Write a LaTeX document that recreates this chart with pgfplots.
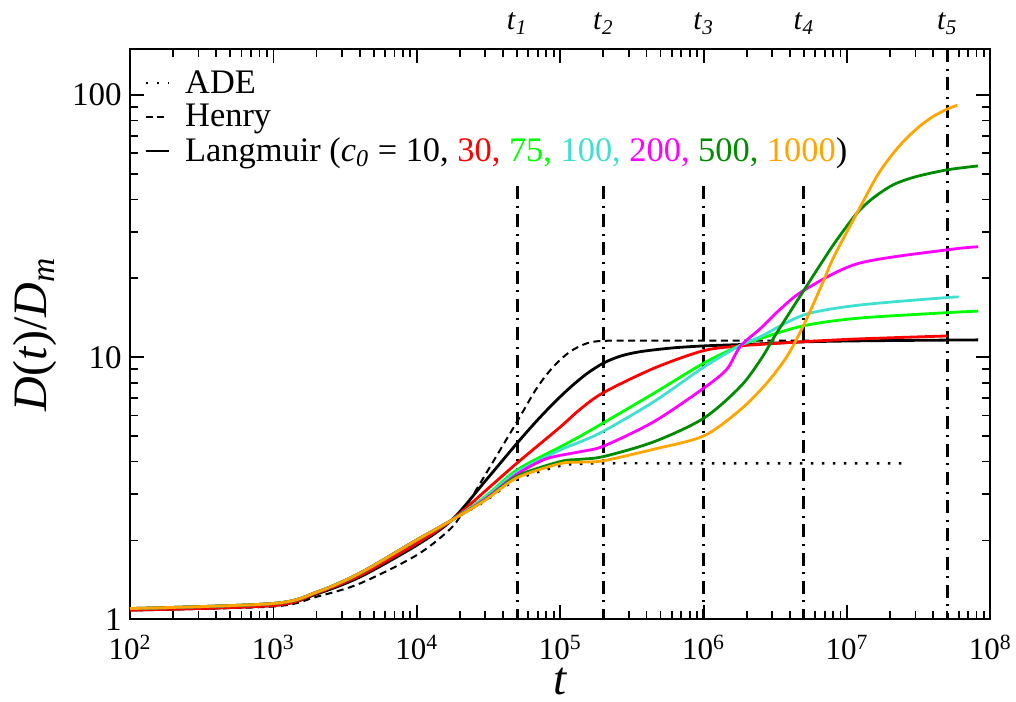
\documentclass[border=0pt]{standalone}
\usepackage{fontspec}
\setmainfont{LiberationSerif}[Extension=.ttf, UprightFont=*-Regular, ItalicFont=*-Italic, BoldFont=*-Bold, BoldItalicFont=*-BoldItalic]
\usepackage{pgfplots}
\pgfplotsset{compat=1.18}
\definecolor{cturq}{RGB}{64,224,208}
\definecolor{cdkgreen}{RGB}{0,139,0}
\definecolor{corange}{RGB}{255,165,0}
\definecolor{cgreen}{RGB}{0,255,0}
\definecolor{cred}{RGB}{255,0,0}
\definecolor{cmag}{RGB}{255,0,255}
\begin{document}
\begin{tikzpicture}
\begin{axis}[
 name=ax,
 scale only axis,
 width=430.2pt, height=285.2pt,
 xmode=log, ymode=log,
 xmin=100, xmax=1e8, ymin=1, ymax=150,
 clip=false,
 xtick={1e2,1e3,1e4,1e5,1e6,1e7,1e8},
 xticklabels={10\textsuperscript{2},10\textsuperscript{3},10\textsuperscript{4},10\textsuperscript{5},10\textsuperscript{6},10\textsuperscript{7},10\textsuperscript{8}},
 ytick={1,10,100}, yticklabels={1,10,100},
 axis line style={line width=1pt},
 every tick/.style={black, line width=0.9pt},
 major tick length=7pt, minor tick length=4pt,
 tick align=inside,
 xticklabel style={font=\fontsize{15.5}{18}\selectfont, inner sep=0pt, anchor=north, yshift=-7.5pt},
 yticklabel style={font=\fontsize{16.5}{19}\selectfont, inner sep=0pt, anchor=east, xshift=-4pt},
 xlabel={\textit{t}},
 ylabel={\textit{D}(\textit{t})/\textit{D}\textsubscript{\textit{m}}},
 xlabel style={at={(axis description cs:0.5,-0.131)}, anchor=base, font=\fontsize{23.5}{26}\selectfont, inner sep=0pt},
 ylabel style={at={(axis description cs:-0.0968,0.5)}, anchor=base, font=\fontsize{24}{26}\selectfont, inner sep=0pt},
 legend style={draw=none, fill=none, at={(axis description cs:0,1)}, anchor=north west, xshift=7pt, yshift=-9pt,
   font=\fontsize{17.2}{20}\selectfont, inner sep=0pt, row sep=1pt, nodes={inner sep=1.5pt},
   /tikz/every odd column/.append style={column sep=6pt}},
 legend cell align=left,
 legend image code/.code={\draw[#1] (0pt,0pt) -- (11.5pt,0pt);},
]
% vertical dash-dot lines
\addplot[forget plot, black, line width=1.5pt, dash pattern=on 6.5pt off 3.3pt on 1pt off 3.3pt] coordinates {(5e4,45) (5e4,1)};
\addplot[forget plot, black, line width=1.5pt, dash pattern=on 6.5pt off 3.3pt on 1pt off 3.3pt] coordinates {(2e5,45) (2e5,1)};
\addplot[forget plot, black, line width=1.5pt, dash pattern=on 6.5pt off 3.3pt on 1pt off 3.3pt] coordinates {(1e6,45) (1e6,1)};
\addplot[forget plot, black, line width=1.5pt, dash pattern=on 6.5pt off 3.3pt on 1pt off 3.3pt] coordinates {(5e6,45) (5e6,1)};
\addplot[forget plot, black, line width=1.5pt, dash pattern=on 6.5pt off 3.3pt on 1pt off 3.3pt] coordinates {(5e7,150) (5e7,1)};
% ADE
\addplot[forget plot, black, line width=1.2pt, dash pattern=on 1.2pt off 4.3pt, smooth] coordinates {
(100,1.10)(1000,1.15)(2000,1.27)(4000,1.50)(1e4,2.01)(1.75e4,2.39)(3e4,2.83)(5e4,3.42)(1e5,3.85)(1.4e5,3.92)(2e5,3.94)(1e6,3.94)(2.4e7,3.94)};
% Henry
\addplot[forget plot, black, line width=1pt, dash pattern=on 3.5pt off 2.3pt, smooth] coordinates {
(100,1.085)(1000,1.12)(2000,1.22)(4000,1.37)(1e4,1.76)(1.75e4,2.24)(2.23e4,2.73)(2.76e4,3.3)(5e4,5.68)(6.86e4,7.62)(8.95e4,9.2)(1.17e5,10.5)(1.53e5,11.3)(2e5,11.55)(4e5,11.57)(1e6,11.57)(6e6,11.57)};
% Langmuir c0=10
\addplot[forget plot, black, line width=1.4pt, smooth] coordinates {
(100,1.085)(1000,1.13)(2000,1.25)(4000,1.45)(1e4,1.92)(1.75e4,2.39)(3e4,3.37)(5e4,4.70)(6.9e4,5.74)(9e4,6.68)(1.17e5,7.66)(1.53e5,8.65)(2e5,9.50)(2.63e5,10.1)(3.6e5,10.5)(6e5,10.85)(1e6,11.05)(1.8e6,11.18)(2.5e6,11.25)(5e6,11.45)(1.2e7,11.55)(5e7,11.63)(8.2e7,11.65)};
% c0=30
\addplot[forget plot, cred, line width=1.4pt, smooth] coordinates {
(100,1.085)(1000,1.13)(2000,1.26)(4000,1.47)(1e4,1.95)(1.75e4,2.39)(3e4,3.09)(5e4,3.95)(1e5,5.42)(1.37e5,6.32)(2e5,7.33)(4.5e5,9.08)(1e6,10.6)(1.8e6,11.05)(2.5e6,11.2)(5e6,11.47)(1.2e7,11.75)(5e7,12.06)};
% c0=75
\addplot[forget plot, cgreen, line width=1.4pt, smooth] coordinates {
(100,1.10)(1000,1.15)(2000,1.27)(4000,1.50)(1e4,2.01)(1.75e4,2.39)(3e4,2.94)(5e4,3.72)(1e5,4.55)(1.37e5,4.99)(2e5,5.62)(4.5e5,7.29)(1e6,9.49)(1.8e6,11.1)(2.5e6,11.8)(5e6,13.2)(1.2e7,14.1)(5e7,14.8)(8.2e7,15.0)};
% c0=100
\addplot[forget plot, cturq, line width=1.4pt, smooth] coordinates {
(100,1.10)(1000,1.15)(2000,1.27)(4000,1.50)(1e4,2.01)(1.75e4,2.39)(3e4,2.92)(5e4,3.65)(1e5,4.43)(1.37e5,4.75)(2e5,5.22)(4.5e5,6.77)(1e6,9.16)(1.8e6,11.1)(2.5e6,12.0)(5e6,14.5)(1.2e7,15.8)(5e7,16.9)(6e7,16.95)};
% c0=200
\addplot[forget plot, cmag, line width=1.4pt, smooth] coordinates {
(100,1.10)(1000,1.15)(2000,1.27)(4000,1.50)(1e4,2.01)(1.75e4,2.39)(3e4,2.88)(5e4,3.58)(8e4,4.10)(1.37e5,4.36)(2e5,4.58)(4.5e5,5.68)(1e6,7.62)(1.45e6,9.0)(1.8e6,11.0)(2.5e6,12.9)(3.4e6,15.2)(5e6,18.0)(1.2e7,22.8)(5e7,25.7)(8.2e7,26.4)};
% c0=500
\addplot[forget plot, cdkgreen, line width=1.4pt, smooth] coordinates {
(100,1.10)(1000,1.15)(2000,1.27)(4000,1.50)(1e4,2.01)(1.75e4,2.39)(3e4,2.86)(5e4,3.52)(1e5,4.0)(1.37e5,4.08)(2e5,4.18)(4.5e5,4.76)(1e6,5.85)(1.8e6,7.72)(2.5e6,9.8)(3.24e6,12.4)(5e6,18.0)(6.84e6,23.5)(8.47e6,28.0)(1.17e7,35.4)(1.52e7,40.5)(2.1e7,45.5)(3e7,48.8)(5e7,51.9)(8.2e7,53.7)};
% c0=1000
\addplot[forget plot, corange, line width=1.4pt, smooth] coordinates {
(100,1.10)(1000,1.15)(2000,1.27)(4000,1.50)(1e4,2.01)(1.75e4,2.39)(3e4,2.85)(5e4,3.47)(1e5,3.93)(1.37e5,3.98)(2e5,4.03)(4.5e5,4.46)(1e6,5.01)(1.8e6,6.3)(2.75e6,7.96)(3.8e6,10.05)(5e6,13.3)(6.84e6,19.5)(8.04e6,24.0)(1.17e7,35.4)(1.61e7,48.9)(2e7,58)(2.5e7,67)(3.2e7,76)(4e7,83)(5e7,88.5)(5.87e7,91.5)};
% legend
\addlegendimage{black, line width=1.2pt, dash pattern=on 1.2pt off 4.3pt}
\addlegendentry{ADE}
\addlegendimage{black, line width=1pt, dash pattern=on 3.5pt off 2.3pt}
\addlegendentry{Henry}
\addlegendimage{black, line width=1.4pt}
\addlegendentry{Langmuir (\textit{c}\textsubscript{\textit{0}} = 10, \textcolor{cred}{30,} \textcolor{cgreen}{75,} \textcolor{cturq}{100,} \textcolor{cmag}{200,} \textcolor{cdkgreen}{500,} \textcolor{corange}{1000})}
% t labels
\node[anchor=base, yshift=9.5pt, font=\fontsize{15}{17}\selectfont] at (axis cs:5e4,150) {\textit{t}\textsubscript{\textit{1}}};
\node[anchor=base, yshift=9.5pt, font=\fontsize{15}{17}\selectfont] at (axis cs:2e5,150) {\textit{t}\textsubscript{\textit{2}}};
\node[anchor=base, yshift=9.5pt, font=\fontsize{15}{17}\selectfont] at (axis cs:1e6,150) {\textit{t}\textsubscript{\textit{3}}};
\node[anchor=base, yshift=9.5pt, font=\fontsize{15}{17}\selectfont] at (axis cs:5e6,150) {\textit{t}\textsubscript{\textit{4}}};
\node[anchor=base, yshift=9.5pt, font=\fontsize{15}{17}\selectfont] at (axis cs:5e7,150) {\textit{t}\textsubscript{\textit{5}}};
\end{axis}
\pgfresetboundingbox
\path ([xshift=-65pt,yshift=-40.85pt]ax.south west) rectangle ([xshift=12.8pt,yshift=24.5pt]ax.north east);
\end{tikzpicture}
\end{document}
